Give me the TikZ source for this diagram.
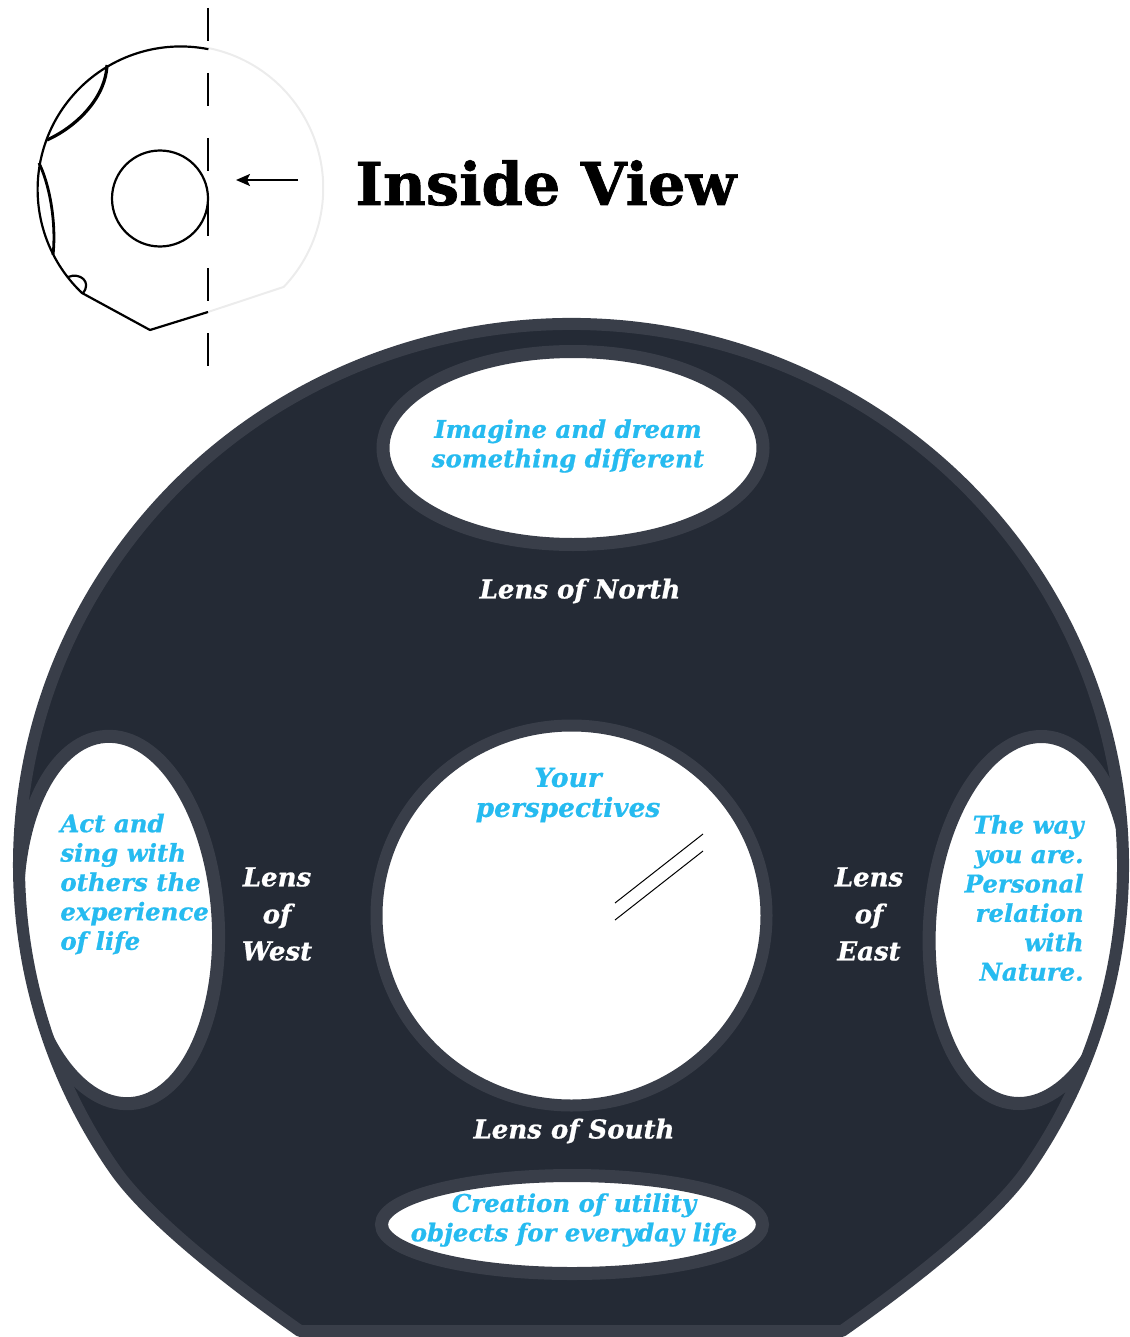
\documentclass[tikz,border=0pt]{standalone}
\usepackage{fontspec}
\usetikzlibrary{arrows.meta}

\newfontfamily\headfont{DejaVu Serif}[BoldFeatures={FakeBold=1.2}, BoldItalicFeatures={FakeBold=0.8}]

\definecolor{disc}{RGB}{36,42,53}
\definecolor{rim}{RGB}{57,62,73}
\definecolor{sky}{RGB}{38,187,240}
\definecolor{faint}{RGB}{236,236,236}

\begin{document}
\begin{tikzpicture}[x=0.5pt,y=-0.5pt]

\tikzstyle{sketch} = [line width=1.1pt, line join=round]
\tikzstyle{lens} = [fill=white, draw=rim, line width=6.5pt]
\tikzstyle{lenstext} = [text=sky, inner sep=0, align=center, font=\headfont\bfseries\itshape\fontsize{12.2}{14.7}\selectfont]
\tikzstyle{bigtext} = [font=\headfont\bfseries\itshape\fontsize{13.2}{15}\selectfont]
\tikzstyle{lenslabel} = [text=white, inner sep=0, align=center, font=\headfont\bfseries\itshape\fontsize{13}{14}\selectfont]
\tikzstyle{stacked} = [font=\headfont\bfseries\itshape\fontsize{13}{18.5}\selectfont]

\useasboundingbox (0,0) rectangle (1129,1337);

% small side sketch
\draw[sketch, faint, line width=1pt] (208,48) arc[start angle=281.2, end angle=403.6, radius=143] -- (208,312);
\draw[sketch] (208,312) -- (150,330) -- (82,293) arc[start angle=133.6, end angle=281.2, radius=143];
\draw[line width=1.6pt] (107,65) .. controls (106,95) and (80,125) .. (47,140);
\draw[line width=1.4pt] (39,163) .. controls (52,190) and (56,230) .. (53,255);
\draw[sketch] (68,277) .. controls (80,272) and (92,282) .. (83,293);
\draw[sketch] (160,198.5) circle[radius=48];
\draw[line width=0.7pt, dash pattern=on 16.5pt off 16pt] (208,8) -- (208,367);

\coordinate (arrow_tail) at (298,180);
\coordinate (arrow_head) at (236,180);
\draw[line width=1pt, -{Stealth[length=7pt, width=6pt, inset=1.5pt]}] (arrow_tail) -- (arrow_head);

\node[anchor=base west, inner sep=0, font=\headfont\bfseries\fontsize{29.5}{32}\selectfont] (title) at (355,205) {Inside View};

% the disc and its lenses
\def\discpath{(113.4,1167.5) .. controls (150,1222) and (250,1296) .. (300,1331) -- (842,1331)
  .. controls (892,1296) and (992,1222) .. (1028.6,1167.5)
  arc[start angle=34, end angle=-214, x radius=552, y radius=541] -- cycle}

\fill[disc] \discpath;
\begin{scope}
  \clip \discpath;
  \draw[lens] (573,448) ellipse[x radius=190, y radius=96.5];
  \draw[lens, line width=6pt] (571.5,915.5) ellipse[x radius=195, y radius=190];
  \draw[lens] (572,1224.5) ellipse[x radius=190.5, y radius=49];
  \draw[lens, shift={(118,920)}, rotate=4] (0,0) ellipse[x radius=100, y radius=184];
  \draw[lens, shift={(1030,920)}, rotate=-5] (0,0) ellipse[x radius=100, y radius=184];
\end{scope}
\draw[rim, line width=6pt, line join=round] \discpath;

\draw[line width=0.5pt] (615,903) -- (703,834);
\draw[line width=0.5pt] (615,920) -- (703,851);

\node[lenstext] (north_text) at (568,446) {Imagine and dream\\something different};
\node[lenslabel] (north_label) at (580,591) {Lens of North};
\node[lenstext, bigtext] (centre_text) at (568,795) {Your\\perspectives};
\node[lenstext, anchor=west, align=left] (west_text) at (60,884) {Act and\\sing with\\others the\\experience\\of life};
\node[lenslabel, stacked] (west_label) at (277,914) {Lens\\of\\West};
\node[lenslabel, stacked] (east_label) at (869,914) {Lens\\of\\East};
\node[lenstext, anchor=east, align=right] (east_text) at (1084,898) {The way\\you are.\\Personal\\relation\\with\\Nature.};
\node[lenslabel] (south_label) at (574,1131) {Lens of South};
\node[lenstext] (south_text) at (574,1220) {Creation of utility\\objects for everyday life};

\end{tikzpicture}
\end{document}
